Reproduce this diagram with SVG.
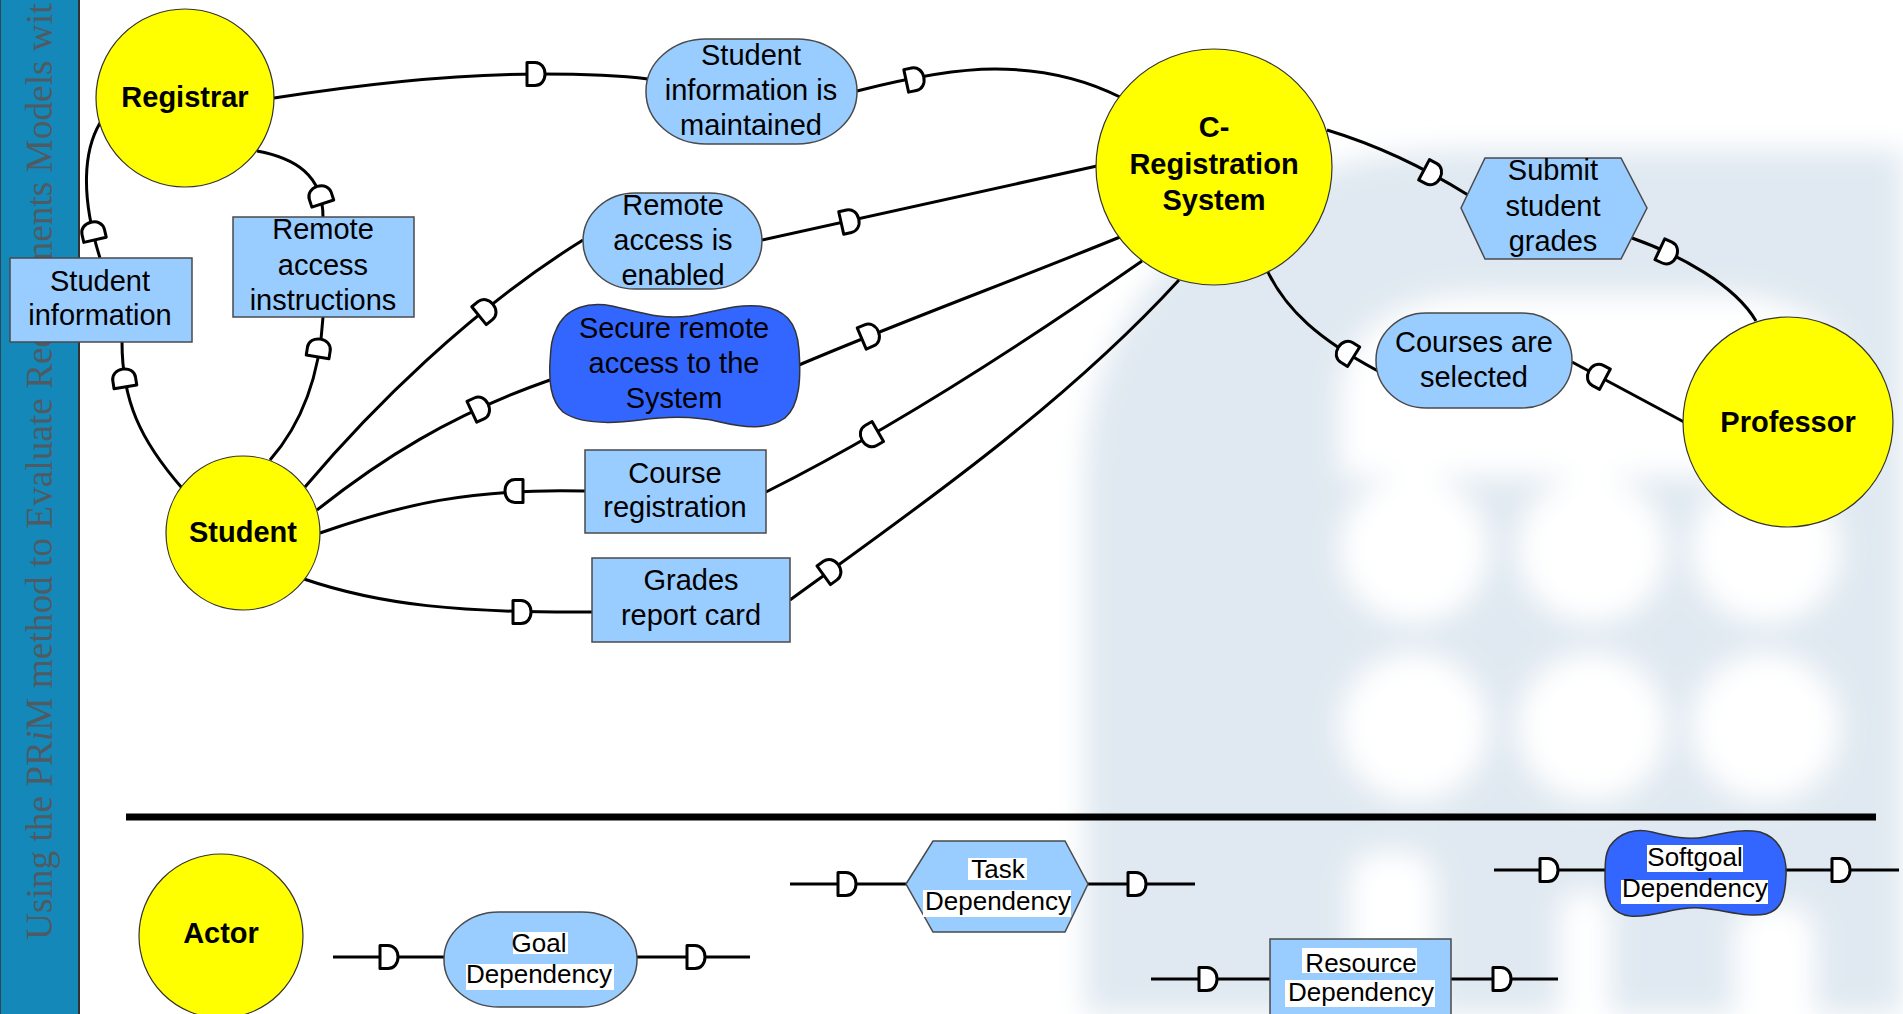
<svg xmlns="http://www.w3.org/2000/svg" xmlns:xlink="http://www.w3.org/1999/xlink" width="1903" height="1014" viewBox="0 0 1903 1014">
  <defs>
    <style>
      .actor { fill: #FFFF00; stroke: #333; stroke-width: 1.2; }
      .dep { fill: #99CCFF; stroke: #4a4a4a; stroke-width: 1.5; }
      .soft { fill: #3366FF; stroke: #333; stroke-width: 1.5; }
      .link { fill: none; stroke: #000; stroke-width: 3; }
      .d { fill: #fff; stroke: #000; stroke-width: 3; stroke-linejoin: round; }
      .at { font-family: "Liberation Sans", Arial, sans-serif; font-weight: bold; font-size: 29px; text-anchor: middle; fill: #000; }
      .t { font-family: "Liberation Sans", Arial, sans-serif; font-size: 29px; text-anchor: middle; fill: #000; }
      .lt { font-family: "Liberation Sans", Arial, sans-serif; font-size: 26px; text-anchor: middle; fill: #000; }
      .hl { fill: #fff; }
      .wm { fill: #e0e9f1; }
      .wh { fill: #fff; }
    </style>
    <!-- dependency "D" mark, bulge pointing along +x -->
    <path id="dmark" class="d" d="M-9,-11.5 H-1 C5,-11.5 9,-6.5 9,0 C9,6.5 5,11.5 -1,11.5 H-9 Z"/>
    <filter id="soften" x="-10%" y="-10%" width="120%" height="120%">
      <feGaussianBlur stdDeviation="14"/>
    </filter>
  </defs>

  <!-- page background -->
  <rect x="0" y="0" width="1903" height="1014" fill="#fff"/>

  <!-- faint logo in the background -->
  <g id="watermark" filter="url(#soften)">
    <path class="wm" d="M1085,1014 L1085,480 C1085,290 1240,150 1460,150 L1903,150 L1903,1014 Z"/>
    <path class="wh" d="M1340,476 L1340,400 C1340,330 1400,295 1480,295 L1716,295 C1800,295 1854,330 1854,400 L1854,476 Z"/>
    <circle class="wh" cx="1414" cy="549" r="74"/>
    <circle class="wh" cx="1592" cy="549" r="74"/>
    <circle class="wh" cx="1766" cy="549" r="74"/>
    <circle class="wh" cx="1414" cy="727" r="74"/>
    <circle class="wh" cx="1592" cy="727" r="74"/>
    <circle class="wh" cx="1766" cy="727" r="74"/>
    <rect class="wh" x="1350" y="852" width="85" height="180" rx="30"/>
    <rect class="wh" x="1560" y="892" width="50" height="140" rx="20"/>
    <rect class="wh" x="1735" y="905" width="80" height="130" rx="30"/>
  </g>

  <!-- side band with rotated title -->
  <g id="band">
    <rect x="0" y="0" width="79" height="1014" fill="#1588BA"/>
    <line x1="79" y1="0" x2="79" y2="1014" stroke="#333" stroke-width="2"/>
    <line x1="0.5" y1="0" x2="0.5" y2="1014" stroke="#2a4a5a" stroke-width="1"/>
    <text transform="translate(52,940) rotate(-90)" font-family="'Liberation Serif', 'Times New Roman', serif" font-size="37.3" fill="#4f5b63">Using the PR<tspan font-style="italic">i</tspan>M method to Evaluate Requirements Models wit</text>
  </g>

  <!-- dependency links -->
  <g id="connectors">
    <path class="link" d="M274,98 C350,86 450,74 540,74 C590,74 625,76 648,79"/>
    <path class="link" d="M857,91 C900,80 950,69 995,69 C1050,69 1090,82 1120,97"/>
    <path class="link" d="M257,151 C295,158 323,175 323,217"/>
    <path class="link" d="M323,317 C320,370 305,420 270,460"/>
    <path class="link" d="M100,123 C84,150 80,195 100,258"/>
    <path class="link" d="M122,342 C122,400 140,440 182,488"/>
    <path class="link" d="M305,487 C370,410 470,310 583,240"/>
    <path class="link" d="M762,240 L1097,166"/>
    <path class="link" d="M317,510 C380,460 450,415 550,380"/>
    <path class="link" d="M799,365 C900,322 1010,282 1120,237"/>
    <path class="link" d="M320,533 C400,505 470,488 585,491"/>
    <path class="link" d="M766,492 C870,440 1000,360 1142,261"/>
    <path class="link" d="M304,579 C380,605 460,613 592,612"/>
    <path class="link" d="M790,600 C900,520 1060,410 1179,280"/>
    <path class="link" d="M1327,130 C1370,143 1420,165 1468,195"/>
    <path class="link" d="M1632,238 C1680,255 1735,285 1756,321"/>
    <path class="link" d="M1266,268 C1285,310 1320,340 1378,371"/>
    <path class="link" d="M1572,362 L1684,422"/>

    <use xlink:href="#dmark" transform="translate(536,74)"/>
    <use xlink:href="#dmark" transform="translate(915,79) rotate(-12)"/>
    <use xlink:href="#dmark" transform="translate(320,195) rotate(-108)"/>
    <use xlink:href="#dmark" transform="translate(319,348) rotate(-81)"/>
    <use xlink:href="#dmark" transform="translate(93,231) rotate(-103)"/>
    <use xlink:href="#dmark" transform="translate(124,378) rotate(-99)"/>
    <use xlink:href="#dmark" transform="translate(486,310) rotate(-39)"/>
    <use xlink:href="#dmark" transform="translate(850,221) rotate(-12.5)"/>
    <use xlink:href="#dmark" transform="translate(480,408) rotate(-25)"/>
    <use xlink:href="#dmark" transform="translate(870,335) rotate(-23)"/>
    <use xlink:href="#dmark" transform="translate(514,491) rotate(180)"/>
    <use xlink:href="#dmark" transform="translate(870,436) rotate(150)"/>
    <use xlink:href="#dmark" transform="translate(522,612)"/>
    <use xlink:href="#dmark" transform="translate(831,570) rotate(-36)"/>
    <use xlink:href="#dmark" transform="translate(1432,174) rotate(28)"/>
    <use xlink:href="#dmark" transform="translate(1668,253) rotate(25)"/>
    <use xlink:href="#dmark" transform="translate(1346,352) rotate(212)"/>
    <use xlink:href="#dmark" transform="translate(1597,375) rotate(208)"/>
  </g>

  <!-- actors -->
  <g id="registrar">
    <circle class="actor" cx="185" cy="98" r="89"/>
    <text class="at" x="185" y="107">Registrar</text>
  </g>
  <g id="student">
    <circle class="actor" cx="243" cy="533" r="77"/>
    <text class="at" x="243" y="542">Student</text>
  </g>
  <g id="c-registration">
    <circle class="actor" cx="1214" cy="167" r="118"/>
    <text class="at" x="1214" y="137">C-</text>
    <text class="at" x="1214" y="174">Registration</text>
    <text class="at" x="1214" y="210">System</text>
  </g>
  <g id="professor">
    <circle class="actor" cx="1788" cy="422" r="105"/>
    <text class="at" x="1788" y="432">Professor</text>
  </g>

  <!-- goals -->
  <g id="goal-info-maintained">
    <rect class="dep" x="646" y="39" width="211" height="105" rx="60" ry="52"/>
    <text class="t" x="751" y="65">Student</text>
    <text class="t" x="751" y="100">information is</text>
    <text class="t" x="751" y="135">maintained</text>
  </g>
  <g id="goal-remote-enabled">
    <rect class="dep" x="583" y="193" width="179" height="96" rx="52" ry="48"/>
    <text class="t" x="673" y="215">Remote</text>
    <text class="t" x="673" y="250">access is</text>
    <text class="t" x="673" y="285">enabled</text>
  </g>
  <g id="goal-courses-selected">
    <rect class="dep" x="1376" y="313" width="196" height="95" rx="50" ry="47"/>
    <text class="t" x="1474" y="352">Courses are</text>
    <text class="t" x="1474" y="387">selected</text>
  </g>

  <!-- task -->
  <g id="task-submit-grades">
    <polygon class="dep" points="1461,208 1485,158 1621,158 1647,208 1621,259 1485,259"/>
    <text class="t" x="1553" y="180">Submit</text>
    <text class="t" x="1553" y="216">student</text>
    <text class="t" x="1553" y="251">grades</text>
  </g>

  <!-- resources -->
  <g id="res-student-info">
    <rect class="dep" x="10" y="258" width="182" height="84"/>
    <text class="t" x="100" y="291">Student</text>
    <text class="t" x="100" y="325">information</text>
  </g>
  <g id="res-remote-instructions">
    <rect class="dep" x="233" y="217" width="181" height="100"/>
    <text class="t" x="323" y="239">Remote</text>
    <text class="t" x="323" y="275">access</text>
    <text class="t" x="323" y="310">instructions</text>
  </g>
  <g id="res-course-registration">
    <rect class="dep" x="585" y="450" width="181" height="83"/>
    <text class="t" x="675" y="483">Course</text>
    <text class="t" x="675" y="517">registration</text>
  </g>
  <g id="res-grades-report">
    <rect class="dep" x="592" y="558" width="198" height="84"/>
    <text class="t" x="691" y="590">Grades</text>
    <text class="t" x="691" y="625">report card</text>
  </g>

  <!-- softgoal -->
  <g id="soft-secure-access">
    <path class="soft" d="M556,330 C566,306 590,302 612,306 C640,312 660,320 690,316 C715,312 735,304 758,306 C785,308 797,322 799,350 C801,378 800,405 785,418 C768,430 745,428 720,422 C695,416 670,416 640,420 C610,424 580,424 563,412 C550,400 549,380 550,362 C551,348 551,340 556,330 Z"/>
    <text class="t" x="674" y="338">Secure remote</text>
    <text class="t" x="674" y="373">access to the</text>
    <text class="t" x="674" y="408">System</text>
  </g>

  <!-- legend -->
  <line id="legend-rule" x1="126" y1="817" x2="1876" y2="817" stroke="#000" stroke-width="7"/>

  <g id="legend-actor">
    <circle class="actor" cx="221" cy="936" r="82"/>
    <text class="at" x="221" y="943" font-size="26">Actor</text>
  </g>

  <g id="legend-goal">
    <line class="link" x1="333" y1="957" x2="445" y2="957"/>
    <line class="link" x1="637" y1="957" x2="750" y2="957"/>
    <use xlink:href="#dmark" transform="translate(389,957)"/>
    <use xlink:href="#dmark" transform="translate(696,957)"/>
    <rect class="dep" x="444" y="912" width="193" height="95" rx="55" ry="47"/>
    <rect class="hl" x="513" y="932" width="55" height="22"/>
    <rect class="hl" x="466" y="964" width="148" height="26"/>
    <text class="lt" x="539" y="952">Goal</text>
    <text class="lt" x="539" y="983">Dependency</text>
  </g>

  <g id="legend-task">
    <line class="link" x1="790" y1="884" x2="906" y2="884"/>
    <line class="link" x1="1088" y1="884" x2="1195" y2="884"/>
    <use xlink:href="#dmark" transform="translate(847,884)"/>
    <use xlink:href="#dmark" transform="translate(1137,884)"/>
    <polygon class="dep" points="906,884 933,841 1065,841 1088,884 1065,932 933,932"/>
    <rect class="hl" x="968" y="858" width="59" height="22"/>
    <rect class="hl" x="923" y="890" width="148" height="27"/>
    <text class="lt" x="998" y="878">Task</text>
    <text class="lt" x="998" y="910">Dependency</text>
  </g>

  <g id="legend-softgoal">
    <line class="link" x1="1494" y1="870" x2="1606" y2="870"/>
    <line class="link" x1="1785" y1="870" x2="1899" y2="870"/>
    <use xlink:href="#dmark" transform="translate(1549,870)"/>
    <use xlink:href="#dmark" transform="translate(1841,870)"/>
    <path class="soft" d="M1610,846 C1620,832 1636,828 1652,832 C1672,837 1688,840 1705,837 C1722,834 1740,828 1760,832 C1780,838 1787,856 1786,876 C1785,896 1782,910 1766,914 C1748,918 1725,910 1700,908 C1675,906 1655,918 1630,916 C1612,914 1605,900 1605,880 C1605,864 1605,854 1610,846 Z"/>
    <rect class="hl" x="1647" y="845" width="96" height="27"/>
    <rect class="hl" x="1621" y="880" width="147" height="24"/>
    <text class="lt" x="1695" y="866">Softgoal</text>
    <text class="lt" x="1695" y="897">Dependency</text>
  </g>

  <g id="legend-resource">
    <line class="link" x1="1151" y1="979" x2="1270" y2="979"/>
    <line class="link" x1="1451" y1="979" x2="1558" y2="979"/>
    <use xlink:href="#dmark" transform="translate(1208,979)"/>
    <use xlink:href="#dmark" transform="translate(1502,979)"/>
    <rect class="dep" x="1270" y="939" width="181" height="90"/>
    <rect class="hl" x="1302" y="948" width="115" height="25"/>
    <rect class="hl" x="1285" y="980" width="150" height="27"/>
    <text class="lt" x="1361" y="972">Resource</text>
    <text class="lt" x="1361" y="1001">Dependency</text>
  </g>
</svg>
